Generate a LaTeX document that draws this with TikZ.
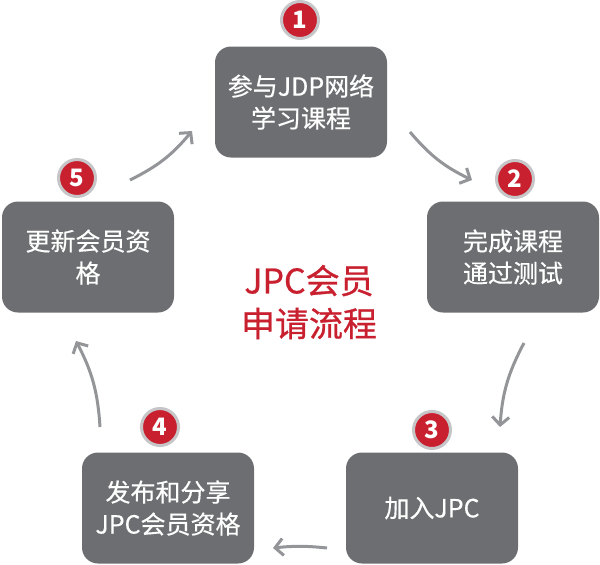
\documentclass[tikz,border=0pt]{standalone}
\usepackage{fontspec}
\setmainfont{Noto Sans CJK SC}
\newfontfamily\boxfont{Noto Sans CJK SC}[FakeBold=0.4]
\newfontfamily\titlefont{Noto Sans CJK SC}[FakeBold=0.8]
\usepackage{xcolor}
\usetikzlibrary{arrows.meta,positioning}

\definecolor{boxgray}{HTML}{6D6E71}
\definecolor{badgered}{HTML}{C9202F}
\definecolor{ringgray}{HTML}{C6C6C8}
\definecolor{arrowgray}{HTML}{939598}
\definecolor{titlered}{HTML}{C8202F}

\begin{document}
\begin{tikzpicture}[x=1pt, y=-1pt,
  stepbox/.style={rectangle, rounded corners=16pt, fill=boxgray, minimum width=172pt, minimum height=111pt, text=white, align=center, font=\boxfont\fontsize{25}{32}\selectfont},
  badge/.style={circle, fill=badgered, draw=ringgray, line width=3pt, minimum size=37pt, inner sep=0pt, text=white, font=\fontsize{24}{24}\selectfont\bfseries},
  flow/.style={draw=arrowgray, line width=3pt, -{Straight Barb[length=8pt,width=17pt]}}]

\useasboundingbox (0,0) rectangle (600,565);

\node[stepbox] (join) at (301,102) {参与JDP网络\\学习课程};
\node[stepbox] (test) at (513,257) {完成课程\\通过测试};
\node[stepbox] (jpc) at (432,508) {加入JPC};
\node[stepbox] (share) at (168,508) {发布和分享\\JPC会员资格};
\node[stepbox] (renew) at (88,257) {更新会员资\\格};

\node[badge] (n1) at (300,20) {1};
\node[badge] (n2) at (515,179) {2};
\node[badge] (n3) at (432,430) {3};
\node[badge] (n4) at (160,427) {4};
\node[badge] (n5) at (77,178) {5};

\node[text=titlered, align=center, font=\titlefont\fontsize{34}{43}\selectfont] (title) at (309,302) {JPC会员\\申请流程};

% arrow ends
\coordinate (a1s) at (410,132);
\coordinate (a1e) at (472,180);
\coordinate (a2s) at (524,343);
\coordinate (a2e) at (500,427);
\coordinate (a3s) at (327,548);
\coordinate (a3e) at (273,548);
\coordinate (a4s) at (100,427);
\coordinate (a4e) at (76,341);
\coordinate (a5s) at (130,180);
\coordinate (a5e) at (192,131);

\draw[flow] (a1s) to[bend right=12] (a1e);
\draw[flow] (a2s) to[bend right=12] (a2e);
\draw[flow] (a3s) to[bend right=6] (a3e);
\draw[flow] (a4s) to[bend right=12] (a4e);
\draw[flow] (a5s) to[bend right=12] (a5e);

\end{tikzpicture}
\end{document}
